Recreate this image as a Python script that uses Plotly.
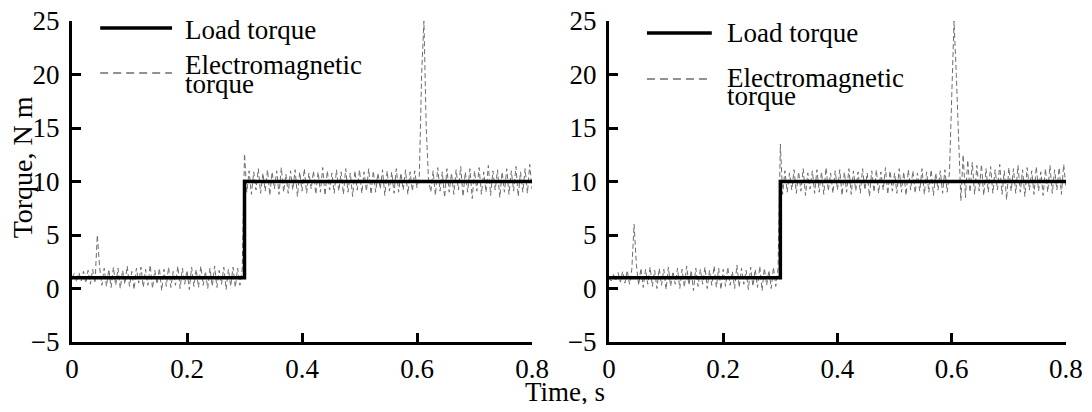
import plotly.graph_objects as go

# ---------------- data ----------------
dt = 0.004  # sampling step of the electromagnetic torque, s
load_t = [0.0, 0.3, 0.8]
load_val = [1.0, 10.0, 10.0]

em_left = [
    1.0, 1.4, 0.6, 1.5, 0.7, 1.6, 0.5, 1.7, 0.4, 1.8, 0.5,
    5.0,
    2.0, 0.3, 1.9, 0.2, 1.8, 0.1, 2.0, 0.3, 1.9, 0.0,
    1.7, 0.4, 2.1, 0.2, 1.6, -0.1, 1.9, 0.5, 2.0, 0.1,
    1.8, 0.3, 2.2, 0.0, 1.7, 0.4, 1.9, -0.2, 1.8, 0.2,
    2.0, 0.1, 1.6, 0.3, 2.1, 0.0, 1.9, 0.4, 1.7, -0.1,
    2.0, 0.2, 1.8, 0.1, 2.1, 0.3, 1.6, 0.0, 1.9, 0.2,
    2.1, 0.1, 1.7, 0.4, 2.0, -0.1, 1.8, 0.2, 2.0, 0.1,
    1.9, 0.3, 1.8,
    12.6,
    9.0, 11.0, 8.8, 10.9, 9.2, 11.2, 8.9, 10.8, 9.1, 11.1,
    8.7, 10.9, 9.3, 11.0, 8.8, 11.3, 9.0, 10.7, 8.9, 11.0,
    9.2, 11.1, 8.6, 10.9, 9.1, 11.2, 8.9, 10.8, 9.3, 11.0,
    8.8, 10.9, 9.0, 11.3, 8.7, 11.0, 9.2, 10.8, 8.9, 11.1,
    9.1, 10.9, 8.8, 11.2, 9.0, 10.8, 8.6, 11.0, 9.2, 11.1,
    8.9, 10.9, 9.1, 11.2, 8.8, 11.0, 9.0, 10.8, 9.3, 11.1,
    8.7, 11.0, 9.1, 10.9, 8.9, 11.2, 9.0, 10.8, 9.2, 11.1,
    8.8, 10.9, 9.1, 11.0, 9.4,
    10.5, 20.0, 25.0, 15.0, 10.2,
    9.0, 11.0, 8.7, 11.3, 9.1, 10.9, 8.5, 11.2, 9.0, 10.8,
    8.8, 11.1, 9.2, 11.4, 8.6, 10.9, 9.0, 11.2, 8.4, 11.0,
    9.1, 11.3, 8.8, 10.9, 9.0, 11.5, 8.7, 11.0, 9.2, 11.1,
    8.5, 10.9, 9.0, 11.2, 8.8, 11.0, 9.1, 11.4, 8.6, 10.9,
    9.0, 11.2, 8.9, 11.6, 9.3,
]

em_right = [
    1.0, 0.7, 1.3, 0.8, 1.5, 0.6, 1.6, 0.5, 1.7, 0.4, 1.8,
    6.0, 2.2,
    0.3, 1.9, 0.1, 1.8, 0.4, 2.0, 0.2, 1.7, 0.0, 1.9,
    0.3, 1.8, -0.1, 2.0, 0.2, 1.6, 0.4, 1.9, 0.0, 1.8,
    0.1, 2.1, 0.3, 1.7, -0.2, 1.9, 0.2, 1.8, 0.4, 2.0,
    0.0, 1.7, 0.3, 2.1, 0.1, 1.9, -0.1, 1.8, 0.2, 2.0,
    0.3, 1.6, 0.0, 2.2, 0.1, 1.9, 0.4, 1.7, -0.1, 2.0,
    0.2, 1.8, 0.1, 2.1, -0.2, 1.9, 0.3, 1.7, 0.0, 2.0,
    0.2, 1.9,
    13.5,
    8.8, 11.0, 9.0, 10.8, 9.2, 11.1, 8.9, 10.9, 9.1, 11.2,
    8.7, 10.8, 9.3, 11.0, 8.9, 11.1, 9.0, 10.9, 8.8, 11.3,
    9.1, 10.8, 8.9, 11.0, 9.2, 11.1, 8.7, 10.9, 9.0, 11.2,
    8.8, 11.0, 9.1, 10.9, 8.9, 11.2, 9.2, 10.8, 8.6, 11.0,
    9.0, 11.1, 8.9, 10.9, 9.2, 11.3, 8.8, 11.0, 9.1, 10.8,
    8.9, 11.2, 9.0, 10.9, 8.7, 11.1, 9.2, 11.0, 8.9, 10.8,
    9.1, 11.2, 8.8, 10.9, 9.0, 11.1, 8.7, 10.8, 9.2, 11.0,
    8.9, 11.1, 9.0, 10.8,
    18.0, 25.0, 20.0, 14.0, 8.2, 12.5,
    8.5, 12.0, 9.0, 11.8, 8.8, 11.5, 9.1, 11.6, 8.7, 11.2,
    9.0, 11.4, 8.9, 11.1, 9.2, 11.6, 8.8, 11.0, 8.3, 11.3,
    9.1, 11.2, 8.9, 11.5, 9.0, 11.1, 8.6, 11.3, 9.2, 11.0,
    8.8, 11.4, 9.1, 10.9, 8.7, 11.2, 9.0, 11.5, 8.9, 11.1,
    9.2, 11.3, 8.8, 11.6, 9.4,
]

x_ticks = [0, 0.2, 0.4, 0.6, 0.8]
y_ticks = [-5, 0, 5, 10, 15, 20, 25]
legend_labels = ["Load torque", "Electromagnetic", "torque"]

# ---------------- style ----------------
FONT = "Liberation Serif, Times New Roman, serif"
FS = 27
EM_COLOR = "#6e6e6e"

fig = go.Figure()

for xa, ya, em in (("x", "y", em_left), ("x2", "y2", em_right)):
    fig.add_trace(go.Scatter(
        y=em, x0=0, dx=dt, mode="lines", xaxis=xa, yaxis=ya,
        line=dict(color=EM_COLOR, width=1, dash="5px,3px"),
        showlegend=False, hoverinfo="skip"))
    fig.add_trace(go.Scatter(
        x=load_t, y=load_val, mode="lines", line_shape="hv",
        xaxis=xa, yaxis=ya,
        line=dict(color="black", width=3.5),
        showlegend=False, hoverinfo="skip"))

axis_common = dict(
    showline=True, linecolor="black", linewidth=3,
    ticks="inside", ticklen=9, tickwidth=2.5, tickcolor="black",
    showgrid=False, zeroline=False, automargin=False,
    ticklabeloverflow="allow",
    tickfont=dict(family=FONT, size=FS, color="black"),
)

# the page body adds an 8px offset at the top-left of the figure
fig.update_layout(
    width=1084, height=396,
    margin=dict(l=64, r=26, t=13, b=62),
    paper_bgcolor="white", plot_bgcolor="white",
    font=dict(family=FONT, size=FS, color="black"),
    xaxis=dict(domain=[0, 0.4628], range=[0, 0.8], tickvals=x_ticks,
               anchor="y", ticklabelstandoff=1, **axis_common),
    xaxis2=dict(domain=[0.5402, 1.0], range=[0, 0.8], tickvals=x_ticks,
                anchor="y2", ticklabelstandoff=1, **axis_common),
    yaxis=dict(domain=[0, 1], range=[-5, 25], tickvals=y_ticks, anchor="x",
               ticklabelstandoff=4, **axis_common),
    yaxis2=dict(domain=[0, 1], range=[-5, 25], tickvals=y_ticks, anchor="x2",
                ticklabelstandoff=4, **axis_common),
    showlegend=False,
)

# legends (drawn inside each panel)
leg = [
    # xref, yref, line x0, x1, solid y, dash y, text x, load y, em y, torque y
    ("x", "y", 0.049, 0.174, 24.35, 20.14, 0.193, 24.2, 20.9, 19.1),
    ("x2", "y2", 0.0665, 0.180, 23.88, 19.58, 0.203, 23.9, 19.7, 18.0),
]
for xr, yr, lx0, lx1, ys, yd, tx, yl, ye, yt in leg:
    fig.add_shape(type="line", xref=xr, yref=yr, x0=lx0, x1=lx1, y0=ys, y1=ys,
                  line=dict(color="black", width=3.5))
    fig.add_shape(type="line", xref=xr, yref=yr, x0=lx0, x1=lx1, y0=yd, y1=yd,
                  line=dict(color=EM_COLOR, width=1.3, dash="8px,5px"))
    for txt, yy in zip(legend_labels, (yl, ye, yt)):
        fig.add_annotation(xref=xr, yref=yr, x=tx, y=yy, text=txt,
                           showarrow=False, xanchor="left", yanchor="middle",
                           font=dict(family=FONT, size=FS, color="black"))

# axis titles
fig.add_annotation(xref="paper", yref="paper", x=0.496, y=-0.156,
                   text="Time, s", showarrow=False, xanchor="center",
                   yanchor="middle", font=dict(family=FONT, size=FS, color="black"))
fig.add_annotation(xref="paper", yref="paper", x=-0.05, y=0.545,
                   text="Torque, N m", textangle=-90, showarrow=False,
                   xanchor="center", yanchor="middle",
                   font=dict(family=FONT, size=28, color="black"))

fig.write_html("out.html")
